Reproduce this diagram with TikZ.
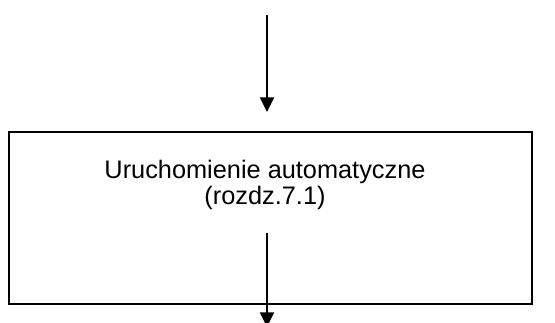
\documentclass[tikz,border=0pt]{standalone}
\usepackage{fontspec}
\setmainfont{Liberation Sans}
\usetikzlibrary{arrows.meta}
\tikzset{
  px/.style={x=0.75pt,y=-0.75pt},
  conn/.style={line width=1.5pt,-{Triangle[width=10.5pt,length=11pt]}},
  boxstyle/.style={draw,line width=1.5pt,rectangle,minimum width=392.25pt,minimum height=129pt,inner sep=0pt},
  lbl/.style={anchor=base,inner sep=0pt,font=\fontsize{19pt}{23pt}\selectfont}
}
\begin{document}
\begin{tikzpicture}[px]
\useasboundingbox (0,0) rectangle (555,322);
\node[boxstyle] (box) at (270,218) {};
\node[lbl] (t1) at (265,178) {Uruchomienie automatyczne};
\node[lbl] (t2) at (265,204) {(rozdz.7.1)};
\coordinate (a1s) at (267,15);
\coordinate (a1e) at (267,112);
\coordinate (a2s) at (267,233);
\coordinate (a2e) at (267,327);
\draw[conn] (a1s) -- (a1e);
\draw[conn] (a2s) -- (a2e);
\end{tikzpicture}
\end{document}
